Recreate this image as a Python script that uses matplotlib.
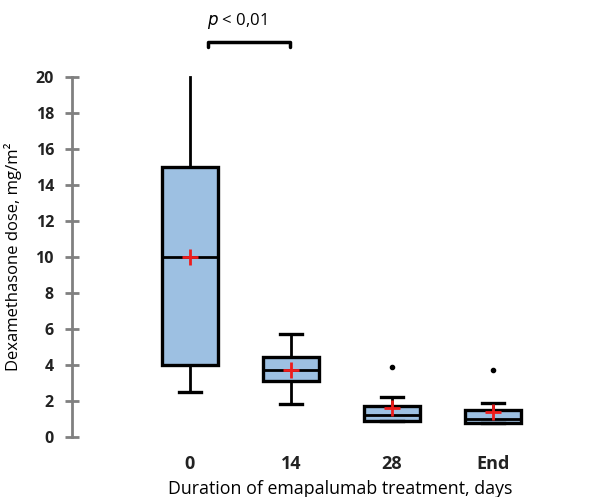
import matplotlib
matplotlib.use("Agg")
import matplotlib.pyplot as plt

# values (mg/m2)
groups = ["0", "14", "28", "End"]
q1 = [4.0, 3.1, 0.9, 0.78]
med = [10.0, 3.75, 1.2, 1.0]
q3 = [15.0, 4.45, 1.75, 1.52]
whislo = [2.5, 1.85, 0.9, 0.78]
whishi = [20.0, 5.7, 2.2, 1.87]
means = [10.0, 3.75, 1.6, 1.4]
outliers = [[], [], [3.9], [3.75]]

bracket = (1.18, 1.99)
bracket_y = 21.95
p_text = "$\\it{p}$ < 0,01"

plt.rcParams['font.family'] = ['Open Sans', 'DejaVu Sans']

fig = plt.figure(figsize=(6.02, 4.97), dpi=100)
ax = fig.add_axes([0.1196, 0.1207, 0.8804, 0.7243])

stats = []
for i, g in enumerate(groups):
    stats.append(dict(label=g, q1=q1[i], med=med[i], q3=q3[i],
                      whislo=whislo[i], whishi=whishi[i],
                      mean=means[i], fliers=outliers[i]))

positions = list(range(1, len(groups) + 1))
bp = ax.bxp(stats, positions=positions, widths=0.55, patch_artist=True,
            showmeans=True, capwidths=0.22,
            boxprops=dict(facecolor="#9dc0e2", edgecolor="black", linewidth=2.4),
            medianprops=dict(color="black", linewidth=2),
            whiskerprops=dict(color="black", linewidth=2),
            capprops=dict(color="black", linewidth=2.4),
            meanprops=dict(marker="+", markeredgecolor="#ee1c1c", markersize=11,
                           markeredgewidth=2),
            flierprops=dict(marker="o", markerfacecolor="black",
                            markeredgecolor="black", markersize=3))
# no top cap on first group in the original
bp["caps"][1].set_visible(False)
for artist in bp["boxes"] + bp["whiskers"] + bp["caps"] + bp["means"] + bp["fliers"] + bp["medians"]:
    artist.set_clip_on(False)

ax.set_xlim(-0.168, 5.08)
ax.set_ylim(0, 20)
ax.set_yticks(range(0, 21, 2))
ax.tick_params(axis="y", direction="inout", length=10, width=2, color="#808080",
               labelsize=11.5, pad=8)
for lab in ax.get_yticklabels():
    lab.set_fontweight("bold")
    lab.set_color("#222222")
ax.tick_params(axis="x", length=0, labelsize=13, pad=13)
for lab in ax.get_xticklabels():
    lab.set_fontweight("bold")
    lab.set_color("#222222")

for side in ["top", "right", "bottom"]:
    ax.spines[side].set_visible(False)
ax.spines["left"].set_color("#808080")
ax.spines["left"].set_linewidth(2)

ax.set_xlabel("Duration of emapalumab treatment, days", fontsize=12.8, va="center")
ax.xaxis.set_label_coords(0.506, -0.145)
ax.set_ylabel("Dexamethasone dose, mg/m²", fontsize=12, labelpad=10)

# significance bracket
ax.plot([bracket[0], bracket[0], bracket[1], bracket[1]],
        [bracket_y - 0.3, bracket_y, bracket_y, bracket_y - 0.3],
        color="black", linewidth=2.5, clip_on=False, solid_capstyle="round")
ax.text(sum(bracket) / 2 - 0.12, bracket_y + 0.6, p_text, ha="center", va="bottom",
        fontsize=12, clip_on=False)

fig.savefig("out.png", dpi=100)
